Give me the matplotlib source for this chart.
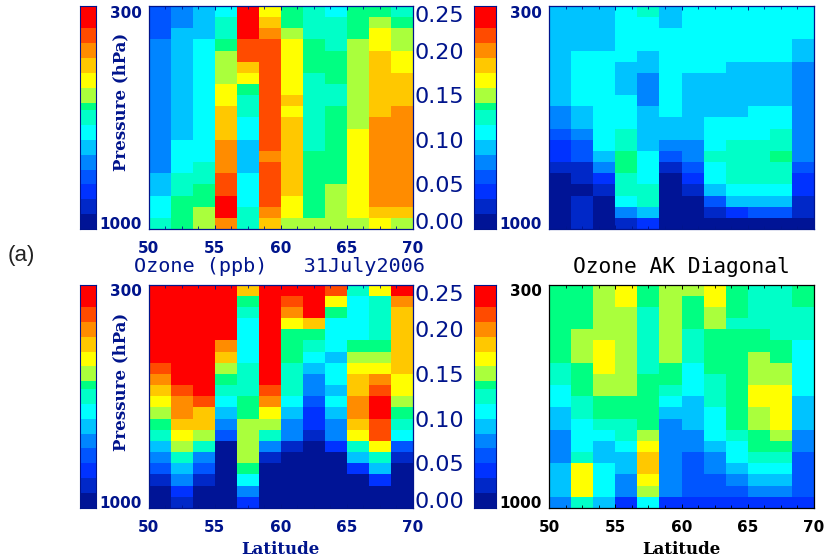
import numpy as np
import matplotlib
matplotlib.use("Agg")
import matplotlib.pyplot as plt
from matplotlib.colors import ListedColormap, BoundaryNorm

W, H = 826, 558
NAVY = "#00148c"

level_colors = ["#001496", "#0028c8", "#0032ff", "#0055ff", "#0085ff", "#00c3ff", "#00ffff", "#00ffc8",
                "#00ff82", "#aaff3c", "#ffff00", "#ffc800", "#ff8c00", "#ff4b00", "#ff0000"]
# colour bar class edges (ppb scale 0 - 0.25)
bar_edges = [0, 0.0167, 0.0333, 0.05, 0.0667, 0.0833, 0.1, 0.1167, 0.1333, 0.1417, 0.1583, 0.175,
             0.1917, 0.2083, 0.225, 0.25]
bar_ticks = [0.00, 0.05, 0.10, 0.15, 0.20, 0.25]
lat_edges = np.linspace(50, 70, 13)
pres_edges = np.linspace(300, 1000, 21)
lat_ticks = [50, 55, 60, 65, 70]
pres_ticks = [300, 1000]

# colour class per column, top (300 hPa) to bottom (1000 hPa)
top_left = [
    [3,3,3,4,4,4,4,4,4,4,4,4,4,4,4,5,5,6,6,7],
    [4,4,5,5,5,5,5,5,5,5,5,5,6,6,6,7,7,8,8,8],
    [5,5,5,6,6,6,6,6,6,6,6,6,6,6,7,7,8,8,9,9],
    [6,7,7,8,9,9,9,10,10,11,11,11,12,12,12,13,13,14,14,12],
    [14,14,14,13,13,11,10,8,7,7,6,6,5,5,5,6,6,6,7,7],
    [10,11,12,13,13,13,13,13,13,13,13,13,13,12,13,13,13,13,12,11],
    [8,8,9,10,10,10,10,10,11,10,11,11,11,11,11,11,11,10,10,9],
    [7,7,7,8,8,8,7,7,7,7,7,7,7,8,8,8,8,8,8,9],
    [6,7,7,7,8,8,8,7,7,8,8,8,8,8,8,8,9,9,9,9],
    [8,8,8,9,9,9,9,9,9,9,9,10,10,10,10,10,10,10,10,9],
    [8,9,10,10,11,11,11,11,11,11,12,12,12,12,12,12,12,12,11,10],
    [7,8,9,9,10,10,11,11,11,12,12,12,12,12,12,12,12,12,11,9],
]
top_right = [
    [5,5,5,5,5,5,5,5,5,4,4,3,2,2,1,0,0,0,0,0],
    [5,5,5,5,6,6,6,6,6,5,5,4,3,3,1,1,0,1,1,1],
    [5,5,5,5,6,6,6,6,6,6,6,6,6,5,4,2,1,0,0,0],
    [6,6,6,6,6,5,5,5,6,6,6,7,7,8,8,7,7,6,4,1],
    [7,6,6,6,5,5,4,4,4,5,5,5,5,6,6,6,7,7,5,2],
    [5,5,6,6,6,6,6,6,6,6,5,5,4,3,1,0,0,0,0,0],
    [6,6,6,6,6,6,5,5,5,5,5,5,4,4,3,2,1,0,0,0],
    [6,6,6,6,6,6,5,5,5,5,6,6,6,7,6,6,5,3,1,0],
    [6,6,6,6,6,5,5,5,5,5,6,6,7,7,7,7,6,5,2,0],
    [6,6,6,6,6,5,5,5,5,6,6,6,7,7,7,7,6,5,3,0],
    [6,6,6,6,6,5,5,5,5,6,6,7,7,8,7,7,6,5,3,0],
    [6,6,6,5,5,4,4,4,4,4,4,4,4,4,3,2,2,1,1,0],
]
bottom_left = [
    [14,14,14,14,14,14,14,13,12,11,10,9,8,7,5,4,3,1,0,0],
    [14,14,14,14,14,14,14,14,14,13,12,12,11,10,9,7,5,4,2,1],
    [14,14,14,14,14,14,14,14,14,14,13,11,11,9,7,4,3,1,0,0],
    [14,14,14,14,14,12,11,9,8,7,6,5,4,3,0,0,0,0,0,0],
    [11,8,7,6,6,6,6,7,7,7,8,8,9,9,9,9,8,6,4,2],
    [14,14,14,14,14,14,14,14,14,13,12,10,9,7,4,1,0,0,0,0],
    [14,13,12,10,8,8,8,7,7,7,6,5,4,4,1,0,0,0,0,0],
    [14,14,14,11,8,7,6,5,4,4,3,2,2,1,0,0,0,0,0,0],
    [13,10,8,6,6,6,5,6,6,5,6,5,4,4,2,0,0,0,0,0],
    [7,6,6,6,6,8,9,10,11,11,12,12,11,10,7,5,2,0,0,0],
    [10,7,7,7,7,8,9,10,12,13,14,14,13,13,10,7,5,2,0,0],
    [14,12,11,11,11,11,11,11,10,10,9,8,7,6,3,1,0,0,0,0],
]
bottom_right = [
    [8,8,8,8,8,8,8,7,7,6,6,5,5,4,4,4,5,5,5,4],
    [8,8,8,8,9,9,9,8,8,8,7,7,6,6,6,7,10,10,10,7],
    [9,9,9,9,9,10,10,10,9,9,8,8,7,6,5,5,6,6,6,5],
    [10,10,9,9,9,9,9,9,9,9,8,8,7,7,6,5,5,4,4,2],
    [8,8,7,7,7,7,7,7,8,8,8,8,8,9,10,11,11,10,9,6],
    [9,9,9,9,9,9,9,8,8,7,6,5,4,4,4,4,4,4,4,2],
    [9,8,8,8,7,7,7,6,6,6,5,5,5,4,4,3,3,3,3,2],
    [10,10,9,9,8,8,8,8,7,7,7,6,6,6,5,4,4,3,3,2],
    [8,8,8,7,8,8,8,8,8,8,8,8,8,7,6,6,5,4,3,2],
    [7,7,7,7,8,8,9,9,9,10,10,9,9,8,8,7,6,5,4,2],
    [7,7,7,7,7,8,8,9,9,10,10,10,10,9,8,7,6,5,4,2],
    [8,8,7,7,7,6,6,6,6,6,5,5,5,4,4,3,3,3,3,2],
]

cmap = ListedColormap(level_colors)
norm = BoundaryNorm(np.arange(-0.5, 15.5), cmap.N)
serif = "DejaVu Serif"
sans = "DejaVu Sans"


def px_axes(fig, x0, y0, x1, y1):
    return fig.add_axes([x0 / W, 1 - y1 / H, (x1 - x0) / W, (y1 - y0) / H])


def panel(fig, box, cols, color, show_x=True, xlabel=None):
    ax = px_axes(fig, *box)
    ax.pcolormesh(lat_edges, pres_edges, np.array(cols).T, cmap=cmap, norm=norm)
    ax.set_ylim(1000, 300)
    ax.set_xticks(lat_ticks)
    ax.set_xticks(np.arange(50, 70.1, 1.25), minor=True)
    ax.set_yticks(pres_ticks)
    ax.tick_params(which="major", direction="in", top=True, length=3, width=0.7, color=color, pad=8.5,
                   labelsize=11, labelcolor=color)
    ax.tick_params(which="minor", direction="in", top=True, length=2, width=0.6, color=color)
    ax.tick_params(axis="y", length=0, pad=5)
    if not show_x:
        ax.tick_params(axis="x", labelbottom=False)
    ylabels = ax.get_yticklabels()
    ylabels[0].set_va("top")
    ylabels[1].set_va("baseline")
    for t in ax.get_xticklabels() + ylabels:
        t.set_family(sans)
        t.set_weight("bold")
    for s in ax.spines.values():
        s.set_color(color)
        s.set_linewidth(0.9)
    if xlabel:
        ax.set_xlabel(xlabel, family=serif, weight="bold", fontsize=12, color=color, labelpad=4.5)
    return ax


def colorbar(fig, box, labels=False):
    ax = px_axes(fig, *box)
    ax.pcolormesh([0, 1], bar_edges, np.arange(15).reshape(-1, 1), cmap=cmap, norm=norm)
    ax.set_ylim(0, 0.25)
    ax.set_xticks([])
    ax.set_yticks(bar_ticks if labels else [])
    if labels:
        ax.set_yticklabels(["%.2f" % v for v in bar_ticks], fontsize=16, color=NAVY)
        ax.tick_params(axis="y", length=0, pad=6.5)
        ylabels = ax.get_yticklabels()
        ylabels[0].set_va("baseline")
        ylabels[-1].set_va("top")
    for s in ax.spines.values():
        s.set_color(NAVY)
        s.set_linewidth(0.8)
    return ax


fig = plt.figure(figsize=(W / 100, H / 100), dpi=100)

panel(fig, (148.5, 6, 413, 229), top_left, NAVY)
panel(fig, (549, 6, 814, 229), top_right, NAVY, show_x=False)
panel(fig, (148.5, 284.5, 413, 508), bottom_left, NAVY, xlabel="Latitude")
ax_d = panel(fig, (549, 284.5, 814, 508), bottom_right, "black", xlabel="Latitude")

colorbar(fig, (80, 6, 95.5, 229))
colorbar(fig, (80, 284.5, 95.5, 508))
colorbar(fig, (473.5, 6, 496, 229), labels=True)
colorbar(fig, (473.5, 284.5, 496, 508), labels=True)

fig.text(121 / W, 1 - 102 / H, "Pressure (hPa)", rotation=90, family=serif, weight="bold", fontsize=12,
         color=NAVY, ha="center", va="center")
fig.text(121 / W, 1 - 382 / H, "Pressure (hPa)", rotation=90, family=serif, weight="bold", fontsize=12,
         color=NAVY, ha="center", va="center")
fig.text(280 / W, 1 - 267 / H, "Ozone (ppb)   31July2006", family="DejaVu Sans Mono", fontsize=14.5,
         color=NAVY, ha="center", va="center")
fig.text(681 / W, 1 - 267 / H, "Ozone AK Diagonal", family="DejaVu Sans Mono", fontsize=15.3,
         color="black", ha="center", va="center")
fig.text(8 / W, 1 - 256 / H, "(a)", family="Liberation Sans", fontsize=16, color="#222222", va="center")

fig.savefig("out.png", dpi=100)
